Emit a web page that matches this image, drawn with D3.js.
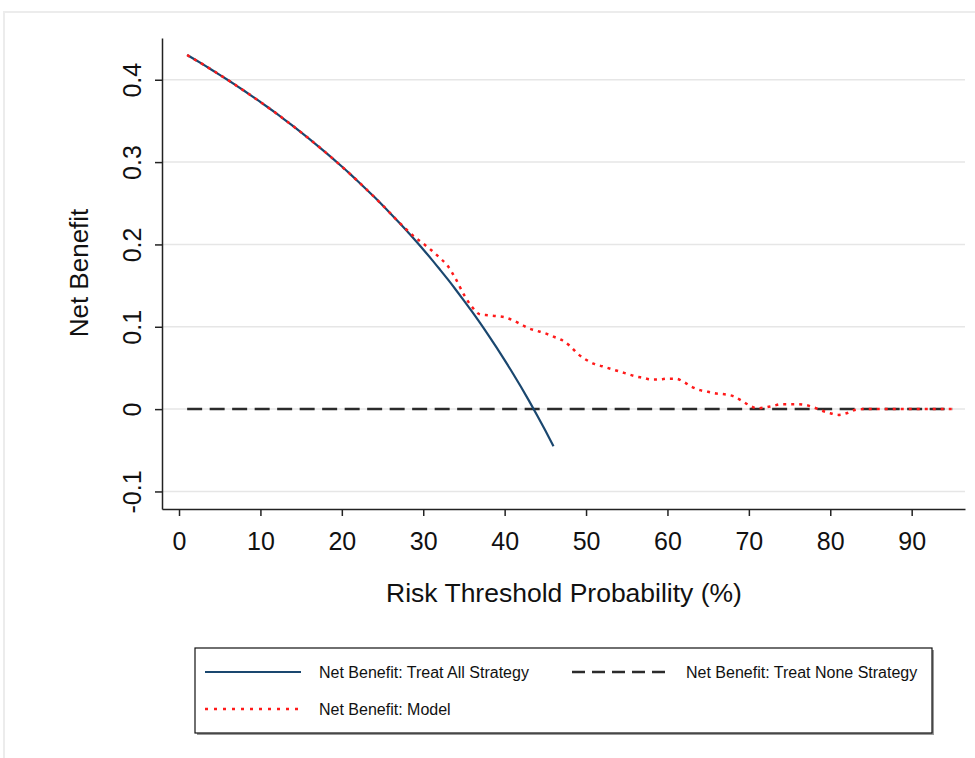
<!DOCTYPE html>
<html><head><meta charset="utf-8">
<script src="https://cdn.jsdelivr.net/npm/d3@7"></script>
<style>body{margin:0;background:#fff}svg{display:block;font-family:"Liberation Sans",Arial,sans-serif}</style>
</head><body><svg id="c" width="975" height="758"></svg>
<script>
// Data
const thresholds = d3.range(1, 96); // 1..95 (%)
const treatAllT = d3.range(1, 47);
const treatAll = [0.4300,0.4242,0.4183,0.4122,0.4060,0.3997,0.3932,0.3866,0.3799,0.3730,
  0.3660,0.3588,0.3514,0.3438,0.3361,0.3282,0.3201,0.3118,0.3033,0.2946,
  0.2857,0.2765,0.2671,0.2575,0.2476,0.2374,0.2270,0.2163,0.2052,0.1939,
  0.1822,0.1701,0.1578,0.1450,0.1318,0.1183,0.1043,0.0898,0.0749,0.0595,
  0.0436,0.0271,0.0100,-0.0077,-0.0260,-0.0450];
const modelNB = [0.4300,0.4242,0.4183,0.4122,0.4060,0.3997,0.3932,0.3866,0.3799,0.3730,
  0.3660,0.3588,0.3514,0.3438,0.3361,0.3282,0.3201,0.3118,0.3033,0.2946,
  0.2857,0.2765,0.2671,0.2575,0.2476,0.2374,0.2272,0.2175,0.2085,0.2010,
  0.1930,0.1840,0.1740,0.1580,0.1390,0.1240,0.1150,0.1140,0.1130,0.1115,
  0.1080,0.1030,0.0980,0.0950,0.0920,0.0880,0.0840,0.0770,0.0670,0.0600,
  0.0550,0.0520,0.0490,0.0460,0.0430,0.0400,0.0380,0.0360,0.0360,0.0370,
  0.0370,0.0330,0.0270,0.0230,0.0210,0.0190,0.0180,0.0160,0.0110,0.0050,
  0.0010,0.0020,0.0040,0.0060,0.0060,0.0060,0.0050,0.0020,-0.0020,-0.0050,
  -0.0070,-0.0050,-0.0010,0,0,0,0,0,0,0,0,0,0,0,0];
const treatNone = thresholds.map(() => 0);
const xTicks = [0,10,20,30,40,50,60,70,80,90];
const yTicks = [-0.1,0,0.1,0.2,0.3,0.4];
const legendLabels = ["Net Benefit: Treat All Strategy","Net Benefit: Treat None Strategy","Net Benefit: Model"];

const svg = d3.select("#c");
// outer frame
svg.append("rect").attr("x",4).attr("y",12).attr("width",990).attr("height",760)
  .attr("fill","none").attr("stroke","#ececec").attr("stroke-width",2);

const L=162, R=965, T=38, B=509;
const x = d3.scaleLinear().domain([-2.09, 96.55]).range([L, R]);
const y = d3.scaleLinear().domain([-0.1213, 0.4507]).range([B, T]);

// gridlines
svg.append("g").selectAll("line").data(yTicks).join("line")
  .attr("x1",L).attr("x2",R).attr("y1",d=>y(d)).attr("y2",d=>y(d))
  .attr("stroke","#e6e6e6").attr("stroke-width",1.5);

// axes
const fmtY = d => d === 0 ? "0" : d3.format(".1f")(d).replace("\u2212","-");
const yAxis = svg.append("g").attr("transform",`translate(${L},0)`)
  .call(d3.axisLeft(y).tickValues(yTicks).tickSize(7).tickSizeOuter(0).tickFormat(fmtY));
yAxis.select(".domain").attr("stroke","#222").attr("stroke-width",1.5);
yAxis.selectAll(".tick line").attr("stroke","#222").attr("stroke-width",1.5);
yAxis.selectAll(".tick text").attr("font-size",25).attr("fill","#111")
  .attr("transform","rotate(-90)").attr("x",0).attr("y",-21).attr("dy","0").attr("text-anchor","middle");

const xAxis = svg.append("g").attr("transform",`translate(0,${B})`)
  .call(d3.axisBottom(x).tickValues(xTicks).tickSize(7).tickSizeOuter(0));
xAxis.select(".domain").attr("stroke","#222").attr("stroke-width",1.5);
xAxis.selectAll(".tick line").attr("stroke","#222").attr("stroke-width",1.5);
xAxis.selectAll(".tick text").attr("font-size",25).attr("fill","#111").attr("y",41).attr("dy","0");

// titles
svg.append("text").attr("transform",`translate(88,273) rotate(-90)`)
  .attr("text-anchor","middle").attr("font-size",26).attr("fill","#111").text("Net Benefit");
svg.append("text").attr("x",564).attr("y",602).attr("text-anchor","middle")
  .attr("font-size",26.5).attr("fill","#111").text("Risk Threshold Probability (%)");

const line = d3.line().x(d=>x(d[0])).y(d=>y(d[1])).curve(d3.curveMonotoneX);

// treat none
svg.append("path").datum(thresholds.map((t,i)=>[t,treatNone[i]])).attr("d",line)
  .attr("fill","none").attr("stroke","#2b2b2b").attr("stroke-width",2.5).attr("stroke-dasharray","15,7.5");
// treat all
svg.append("path").datum(treatAllT.map((t,i)=>[t,treatAll[i]])).attr("d",line)
  .attr("fill","none").attr("stroke","#1a476f").attr("stroke-width",2.2);
// model
svg.append("path").datum(thresholds.map((t,i)=>[t,modelNB[i]])).attr("d",line)
  .attr("fill","none").attr("stroke","#ff1a1a").attr("stroke-width",2.5).attr("stroke-dasharray","3,5");

// legend
const lg = svg.append("g");
lg.append("rect").attr("x",197).attr("y",650).attr("width",737).attr("height",85).attr("fill","#999");
lg.append("rect").attr("x",195).attr("y",648).attr("width",737).attr("height",85).attr("fill","#fff").attr("stroke","#111").attr("stroke-width",1.2);
const items = [
  {x1:205,x2:301,yy:672,tx:319,stroke:"#1a476f",dash:null,w:2.2,label:legendLabels[0]},
  {x1:572,x2:668,yy:672,tx:686,stroke:"#2b2b2b",dash:"13,7",w:2.5,label:legendLabels[1]},
  {x1:205,x2:301,yy:709,tx:319,stroke:"#ff1a1a",dash:"3,6",w:2.5,label:legendLabels[2]}
];
items.forEach(it=>{
  lg.append("line").attr("x1",it.x1).attr("x2",it.x2).attr("y1",it.yy).attr("y2",it.yy)
    .attr("stroke",it.stroke).attr("stroke-width",it.w).attr("stroke-dasharray",it.dash);
  lg.append("text").attr("x",it.tx).attr("y",it.yy+5.5).attr("font-size",16).attr("fill","#111").text(it.label);
});
</script></body></html>
